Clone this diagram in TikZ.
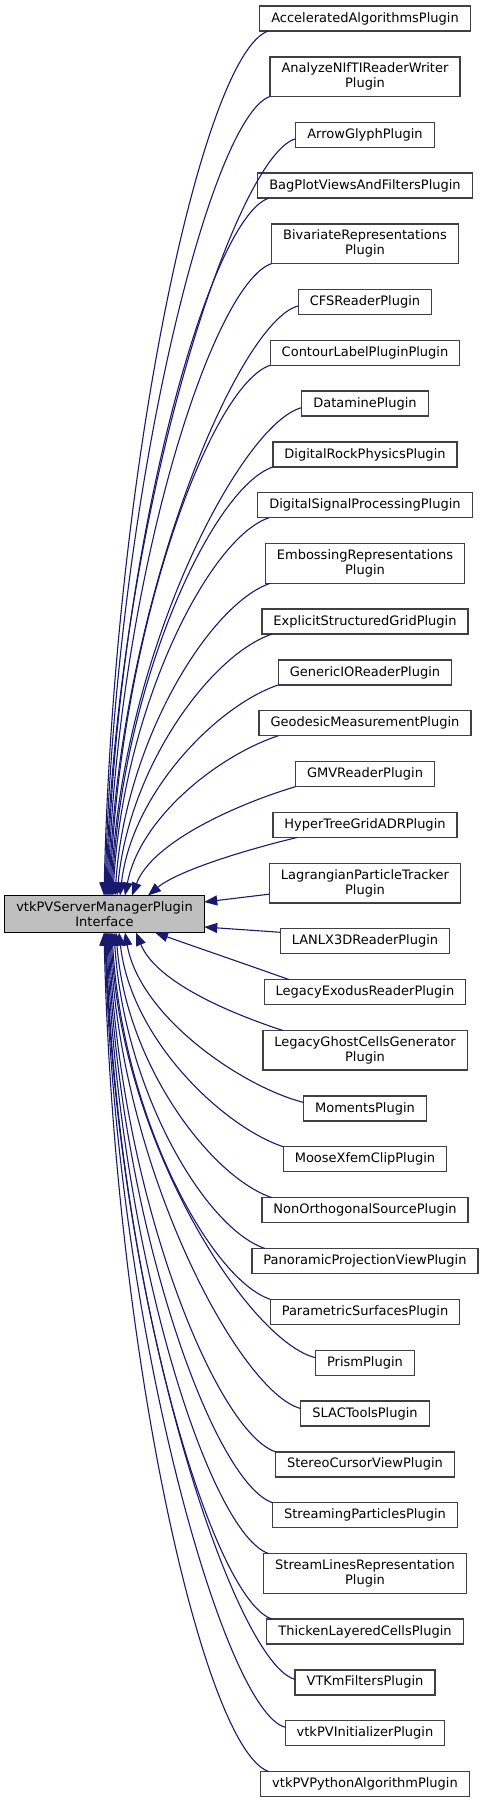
\documentclass[tikz,border=0pt]{standalone}
\usepackage{fontspec}
\setmainfont{DejaVu Sans}
\usetikzlibrary{positioning,arrows.meta}
\definecolor{edgeblue}{HTML}{191970}
\definecolor{boxline}{HTML}{404040}

\begin{document}
\begin{tikzpicture}[
  x=1pt, y=-1pt,
  plugin/.style = {
    draw=boxline,
    line width=1.3pt,
    shape=rectangle,
    minimum height=25pt,
    inner xsep=11.5pt,
    inner ysep=6pt,
    outer sep=0pt,
    font=\fontsize{13pt}{15pt}\selectfont,
    align=center
  },
  iface/.style = {plugin, draw=black, fill=gray!50},
  inherit/.style = {draw=edgeblue, line width=1.1pt, -{Triangle[length=13pt,width=10pt]}},
]
  \useasboundingbox (0,0) rectangle (484,1805);

  % base class
  \node (iface)[iface] at (104.5,914) {vtkPVServerManagerPlugin\\Interface};

  % derived plugins, top to bottom
  \node (accel)[plugin] at (365,18.5) {AcceleratedAlgorithmsPlugin};
  \node (analyze)[plugin, below=25.85pt of accel] {AnalyzeNIfTIReaderWriter\\Plugin};
  \node (arrow)[plugin, below=25.85pt of analyze] {ArrowGlyphPlugin};
  \node (bagplot)[plugin, below=25.85pt of arrow] {BagPlotViewsAndFiltersPlugin};
  \node (bivariate)[plugin, below=25.85pt of bagplot] {BivariateRepresentations\\Plugin};
  \node (cfs)[plugin, below=25.85pt of bivariate] {CFSReaderPlugin};
  \node (contour)[plugin, below=25.85pt of cfs] {ContourLabelPluginPlugin};
  \node (datamine)[plugin, below=25.85pt of contour] {DataminePlugin};
  \node (rock)[plugin, below=25.85pt of datamine] {DigitalRockPhysicsPlugin};
  \node (signal)[plugin, below=25.85pt of rock] {DigitalSignalProcessingPlugin};
  \node (emboss)[plugin, below=25.85pt of signal] {EmbossingRepresentations\\Plugin};
  \node (explicit)[plugin, below=25.85pt of emboss] {ExplicitStructuredGridPlugin};
  \node (genericio)[plugin, below=25.85pt of explicit] {GenericIOReaderPlugin};
  \node (geodesic)[plugin, below=25.85pt of genericio] {GeodesicMeasurementPlugin};
  \node (gmv)[plugin, below=25.85pt of geodesic] {GMVReaderPlugin};
  \node (hypertree)[plugin, below=25.85pt of gmv] {HyperTreeGridADRPlugin};
  \node (lagrangian)[plugin, below=25.85pt of hypertree] {LagrangianParticleTracker\\Plugin};
  \node (lanl)[plugin, below=25.85pt of lagrangian] {LANLX3DReaderPlugin};
  \node (exodus)[plugin, below=25.85pt of lanl] {LegacyExodusReaderPlugin};
  \node (ghost)[plugin, below=25.85pt of exodus] {LegacyGhostCellsGenerator\\Plugin};
  \node (moments)[plugin, below=25.85pt of ghost] {MomentsPlugin};
  \node (moose)[plugin, below=25.85pt of moments] {MooseXfemClipPlugin};
  \node (nonortho)[plugin, below=25.85pt of moose] {NonOrthogonalSourcePlugin};
  \node (panoramic)[plugin, below=25.85pt of nonortho] {PanoramicProjectionViewPlugin};
  \node (parametric)[plugin, below=25.85pt of panoramic] {ParametricSurfacesPlugin};
  \node (prism)[plugin, below=25.85pt of parametric] {PrismPlugin};
  \node (slac)[plugin, below=25.85pt of prism] {SLACToolsPlugin};
  \node (stereo)[plugin, below=25.85pt of slac] {StereoCursorViewPlugin};
  \node (streaming)[plugin, below=25.85pt of stereo] {StreamingParticlesPlugin};
  \node (streamlines)[plugin, below=25.85pt of streaming] {StreamLinesRepresentation\\Plugin};
  \node (thicken)[plugin, below=25.85pt of streamlines] {ThickenLayeredCellsPlugin};
  \node (vtkm)[plugin, below=25.85pt of thicken] {VTKmFiltersPlugin};
  \node (initializer)[plugin, below=25.85pt of vtkm] {vtkPVInitializerPlugin};
  \node (python)[plugin, below=25.85pt of initializer] {vtkPVPythonAlgorithmPlugin};

  % edges into the top of the base class
  \draw[inherit] ([xshift=8.5pt]accel.south west) .. controls +(-65,22) and +(10,-431) .. ([xshift=-0.5pt]iface.north);
  \draw[inherit] (analyze.south west) .. controls +(-60,20) and +(10,-398) .. ([xshift=0.5pt]iface.north);
  \draw[inherit] ([yshift=-4pt]arrow.west) .. controls +(-60,15) and +(10,-377) .. ([xshift=1.5pt]iface.north);
  \draw[inherit] ([xshift=11pt]bagplot.south west) .. controls +(-60,20) and +(10,-347) .. ([xshift=2.5pt]iface.north);
  \draw[inherit] (bivariate.south west) .. controls +(-60,20) and +(10,-315) .. ([xshift=3.5pt]iface.north);
  \draw[inherit] ([yshift=-4pt]cfs.west) .. controls +(-60,15) and +(10,-293) .. ([xshift=4.5pt]iface.north);
  \draw[inherit] (contour.south west) .. controls +(-60,20) and +(10,-264) .. ([xshift=5.5pt]iface.north);
  \draw[inherit] ([yshift=-4pt]datamine.west) .. controls +(-60,15) and +(10,-243) .. ([xshift=6.5pt]iface.north);
  \draw[inherit] (rock.south west) .. controls +(-60,20) and +(10,-213) .. ([xshift=7.5pt]iface.north);
  \draw[inherit] ([xshift=11pt]signal.south west) .. controls +(-60,20) and +(10,-187) .. ([xshift=8.5pt]iface.north);
  \draw[inherit] ([xshift=5pt]emboss.south west) .. controls +(-60,20) and +(10,-155) .. ([xshift=10.5pt]iface.north);
  \draw[inherit] ([xshift=10pt]explicit.south west) .. controls +(-60,20) and +(12,-130) .. ([xshift=12.5pt]iface.north);
  \draw[inherit] (genericio.south west) .. controls +(-60,20) and +(12,-104) .. ([xshift=15.5pt]iface.north);
  \draw[inherit] ([xshift=19pt]geodesic.south west) .. controls +(-60,20) and +(15,-78) .. ([xshift=20.5pt]iface.north);
  \draw[inherit] (gmv.south west) .. controls +(-60,18) and +(20,-53) .. ([xshift=27.5pt]iface.north);
  \draw[inherit] ([xshift=24pt]hypertree.south west) .. controls +(-50,12) and +(30,-25) .. ([xshift=43.5pt]iface.north);

  % edges into the right side
  \draw[inherit] ([yshift=-11pt]lagrangian.west) -- ([yshift=12pt]iface.east);
  \draw[inherit] ([yshift=9pt]lanl.west) -- ([yshift=-13pt]iface.east);

  % edges into the bottom of the base class
  \draw[inherit] ([xshift=25pt]exodus.north west) .. controls +(-45,-16) and +(45,16) .. ([xshift=50.5pt]iface.south);
  \draw[inherit] ([xshift=20pt]ghost.north west) .. controls +(-55,-18) and +(20,49) .. ([xshift=31.5pt]iface.south);
  \draw[inherit] ([yshift=6pt]moments.west) .. controls +(-60,-15) and +(15,85) .. ([xshift=20.5pt]iface.south);
  \draw[inherit] (moose.north west) .. controls +(-60,-20) and +(12,107) .. ([xshift=14.5pt]iface.south);
  \draw[inherit] ([xshift=10pt]nonortho.north west) .. controls +(-60,-20) and +(10,133) .. ([xshift=11.5pt]iface.south);
  \draw[inherit] ([xshift=13pt]panoramic.north west) .. controls +(-60,-20) and +(10,158) .. ([xshift=9.5pt]iface.south);
  \draw[inherit] (parametric.north west) .. controls +(-60,-20) and +(10,183) .. ([xshift=7.5pt]iface.south);
  \draw[inherit] ([yshift=5pt]prism.west) .. controls +(-65,-15) and +(10,213) .. ([xshift=6.5pt]iface.south);
  \draw[inherit] ([yshift=5pt]slac.west) .. controls +(-60,-15) and +(10,238) .. ([xshift=5.5pt]iface.south);
  \draw[inherit] (stereo.north west) .. controls +(-60,-20) and +(10,260) .. ([xshift=4.5pt]iface.south);
  \draw[inherit] (streaming.north west) .. controls +(-60,-20) and +(10,285) .. ([xshift=3.5pt]iface.south);
  \draw[inherit] ([xshift=5pt]streamlines.north west) .. controls +(-60,-20) and +(10,311) .. ([xshift=2.5pt]iface.south);
  \draw[inherit] ([xshift=5pt]thicken.north west) .. controls +(-60,-20) and +(10,344) .. ([xshift=1.5pt]iface.south);
  \draw[inherit] ([yshift=3pt]vtkm.west) .. controls +(-60,-15) and +(10,374) .. ([xshift=1pt]iface.south);
  \draw[inherit] ([yshift=6pt]initializer.west) .. controls +(-60,-15) and +(10,398) .. ([xshift=0.5pt]iface.south);
  \draw[inherit] ([xshift=8pt]python.north west) .. controls +(-65,-22) and +(10,420) .. ([xshift=-0.5pt]iface.south);
\end{tikzpicture}
\end{document}
